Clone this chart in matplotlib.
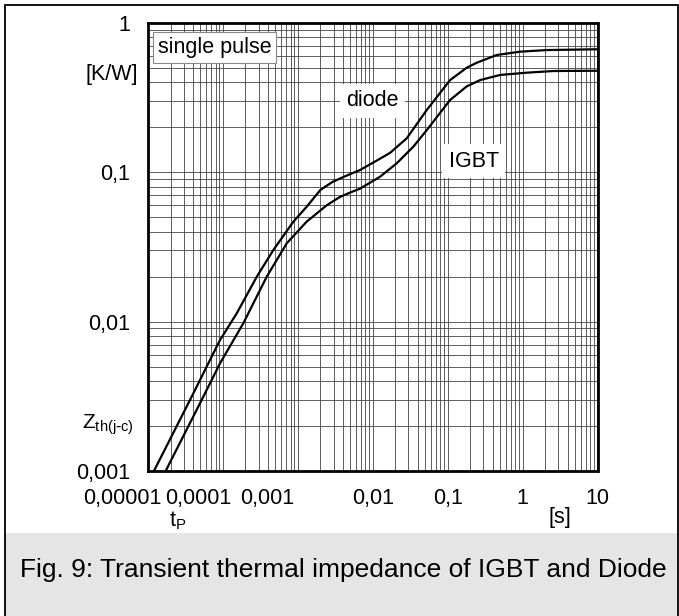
import numpy as np
import matplotlib
matplotlib.use("Agg")
import matplotlib.pyplot as plt
from matplotlib.ticker import LogLocator, NullFormatter
from matplotlib.patches import Rectangle
import matplotlib.transforms as mtransforms

plt.rcParams['font.family'] = ['Liberation Sans', 'DejaVu Sans']

# curves
t_diode = [1.2e-5, 3.64e-5, 9.14e-5, 1.53e-4, 2.83e-4, 4.71e-4, 8.71e-4, 1.31e-3,
           2.0e-3, 2.9e-3, 4.2e-3, 6.76e-3, 1.02e-2, 1.70e-2, 2.84e-2, 5.26e-2, 0.1077,
           0.18, 0.245, 0.452, 0.927, 2.10, 10.0]
z_diode = [0.001, 0.00299, 0.00752, 0.01135, 0.01995, 0.0301, 0.0466, 0.0586,
           0.0760, 0.0860, 0.0935, 0.1033, 0.1160, 0.1345, 0.1683, 0.2606, 0.4131,
           0.500, 0.540, 0.608, 0.640, 0.656, 0.664]

t_igbt = [1.72e-5, 5.21e-5, 9.14e-5, 1.87e-4, 3.85e-4, 7.11e-4, 1.31e-3, 2.43e-3,
          3.6e-3, 4.98e-3, 6.76e-3, 1.25e-2, 2.09e-2, 3.48e-2, 5.26e-2, 0.1077, 0.18,
          0.271, 0.501, 1.14, 2.58, 10.0]
z_igbt = [0.001, 0.00299, 0.00525, 0.00973, 0.0200, 0.0334, 0.0466, 0.0600,
          0.0680, 0.0730, 0.0775, 0.0931, 0.1146, 0.148, 0.191, 0.304, 0.375,
          0.413, 0.447, 0.463, 0.475, 0.477]

xticks = [1e-5, 1e-4, 1e-3, 1e-2, 1e-1, 1, 10]
xlabels = ['0,00001', '0,0001', '0,001', '0,01', '0,1', '1', '10']
yticks = [0.001, 0.01, 0.1, 1]
ylabels = ['0,001', '0,01', '0,1', '1']

W, H = 679, 616
fs = 15.5
fig = plt.figure(figsize=(W / 100, H / 100), dpi=100)

# outer frame and caption band
fig.patches.append(Rectangle((4 / W, 0), 675 / W, (H - 533) / H,
                             transform=fig.transFigure, facecolor='#e5e5e5',
                             edgecolor='none', zorder=0))
fig.patches.append(Rectangle((4.5 / W, -0.01), (673 / W), (H - 5) / H + 0.01,
                             transform=fig.transFigure, facecolor='none',
                             edgecolor='black', linewidth=1.3, zorder=1))
fig.text(20 / W, 1 - 570 / H, 'Fig. 9: Transient thermal impedance of IGBT and Diode',
         fontsize=19, va='center', ha='left')

ax = fig.add_axes([148 / W, 1 - 471 / H, 449.5 / W, 448.3 / H])
ax.set_xscale('log')
ax.set_yscale('log')
ax.set_xlim(1e-5, 10)
ax.set_ylim(0.001, 1)

for t, z in [(t_diode, z_diode), (t_igbt, z_igbt)]:
    ax.plot(t, z, color='black', linewidth=1.6, zorder=3, clip_on=False,
            solid_joinstyle='round')

ax.xaxis.set_minor_locator(LogLocator(base=10, subs=np.arange(2, 10)))
ax.yaxis.set_minor_locator(LogLocator(base=10, subs=np.arange(2, 10)))
ax.xaxis.set_minor_formatter(NullFormatter())
ax.yaxis.set_minor_formatter(NullFormatter())
ax.grid(which='both', color='#444444', linewidth=0.6)
ax.set_axisbelow(True)

ax.set_xticks(xticks)
ax.set_xticklabels(xlabels, fontsize=fs)
ax.set_yticks(yticks)
ax.set_yticklabels(ylabels, fontsize=fs)
ax.tick_params(which='both', length=0)
ax.tick_params(axis='x', pad=12.5)
ax.tick_params(axis='y', pad=13)

# crowded low-end labels are nudged left
shifts = [-18.5, -17.5, -22.3, 0, 0, 0, 0]
for lab, dx in zip(ax.get_xticklabels(), shifts):
    lab.set_transform(lab.get_transform() +
                      mtransforms.ScaledTranslation(dx / 72, 0, fig.dpi_scale_trans))

for s in ax.spines.values():
    s.set_linewidth(2)

ax.text(0.022, 0.945, 'single pulse', transform=ax.transAxes, fontsize=fs,
        va='center', ha='left',
        bbox=dict(boxstyle='square,pad=0.22', facecolor='white', edgecolor='#888888', linewidth=0.8))
ax.text(0.441, 0.826, 'diode', transform=ax.transAxes, fontsize=fs,
        va='center', ha='left',
        bbox=dict(boxstyle='square,pad=0.3', facecolor='white', edgecolor='none'))
ax.text(0.669, 0.691, 'IGBT', transform=ax.transAxes, fontsize=fs,
        va='center', ha='left',
        bbox=dict(boxstyle='square,pad=0.3', facecolor='white', edgecolor='none'))

fig.text(138 / W, 1 - 74.5 / H, '[K/W]', fontsize=fs, ha='right', va='center')
fig.text(82 / W, 1 - 425 / H, r'Z$_{\mathregular{th(j\text{-}c)}}$', fontsize=15,
         ha='left', va='center')
fig.text(178 / W, 1 - 521 / H, r't$_{\mathregular{P}}$', fontsize=fs, ha='center', va='center')
fig.text(560 / W, 1 - 517 / H, '[s]', fontsize=fs, ha='center', va='center')

fig.savefig('out.png', dpi=100)
